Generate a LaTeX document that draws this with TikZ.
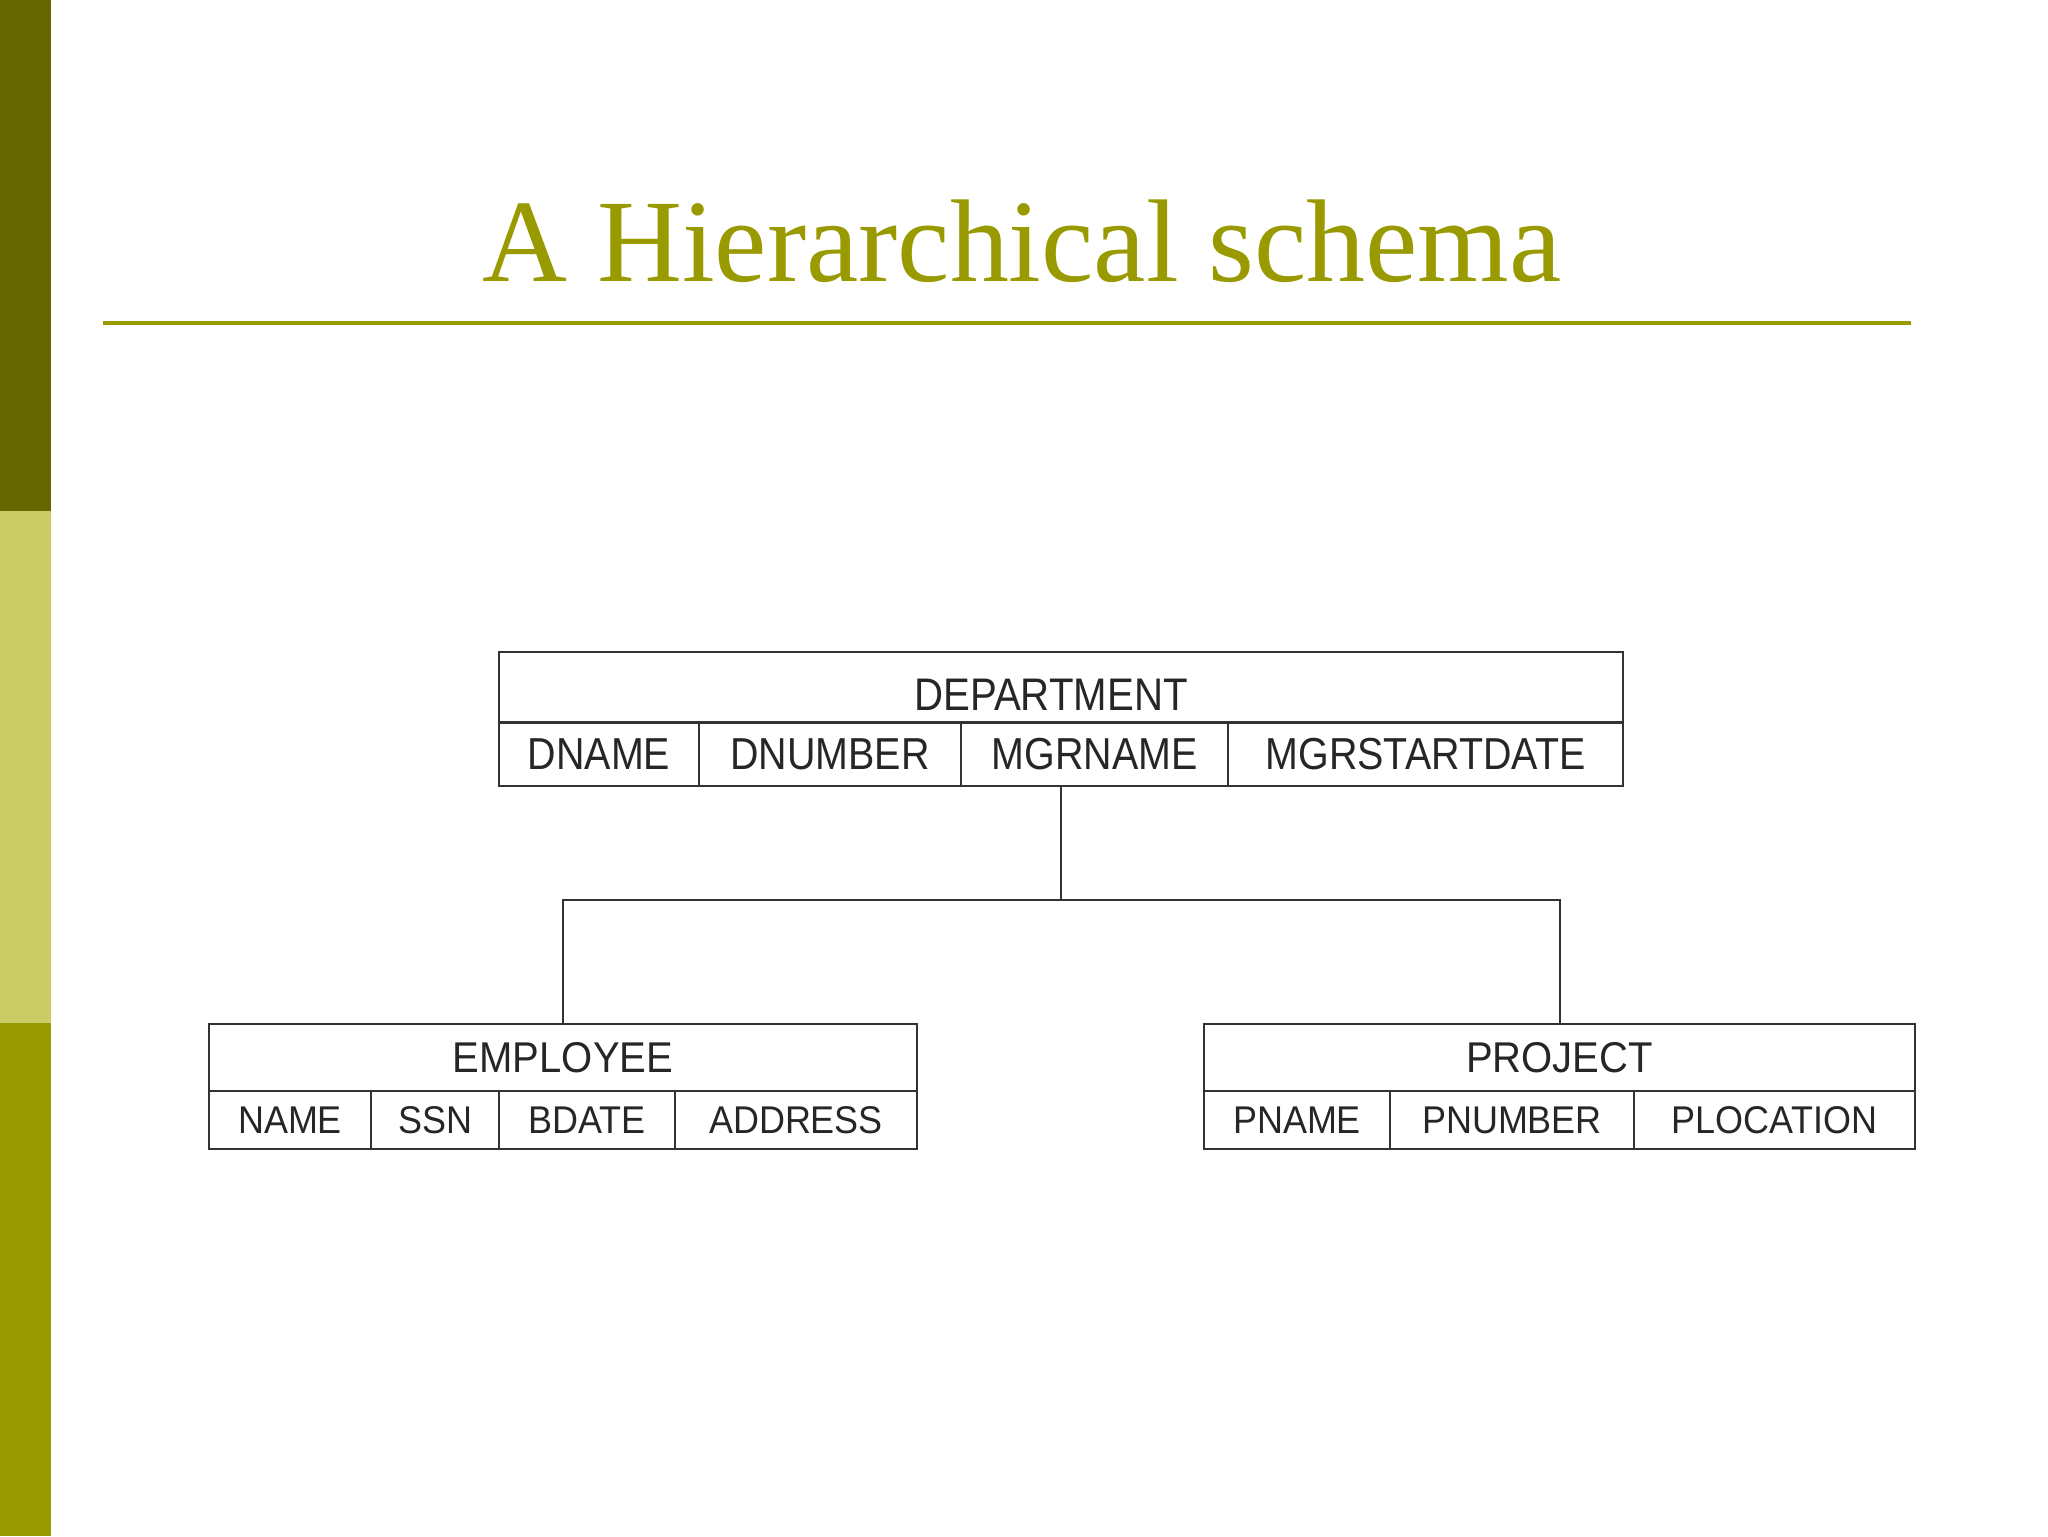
\documentclass[tikz,border=0pt]{standalone}
\usepackage{fontspec}
\setmainfont{Liberation Serif}
\newfontfamily\cellfont[FakeStretch=0.88]{Liberation Sans}
\newfontfamily\cellfontwide[FakeStretch=0.93]{Liberation Sans}
\usepackage{tikz}
\usetikzlibrary{positioning,calc}
\usepackage{xcolor}
\definecolor{barDark}{HTML}{666600}
\definecolor{barLight}{HTML}{CCCC66}
\definecolor{barOlive}{HTML}{999900}
\definecolor{lineGray}{HTML}{333333}

\tikzset{
    cell/.style={draw=lineGray,line width=0.04cm,inner sep=0pt,text=black!85,font=\cellfont},
    link/.style={draw=lineGray,line width=0.04cm}
}

\begin{document}
\begin{tikzpicture}[x=0.02cm,y=-0.02cm]
    \useasboundingbox (0,0) rectangle (2048,1536);

    % Side bar
    \fill[barDark] (0,0) rectangle (51,511);
    \fill[barLight] (0,511) rectangle (51,1023);
    \fill[barOlive] (0,1023) rectangle (51,1536);

    % Title
    \node[anchor=base,inner sep=0pt,text=barOlive,font=\fontsize{67}{70}\selectfont] (title) at (1022,281) {A Hierarchical schema};
    \draw[barOlive,line width=0.08cm] (103,323) -- (1911,323);

    % Root record
    \node[cell,minimum width=22.48cm,minimum height=1.4cm] (dept) at (1061,687) {};
    \node[inner sep=0pt,text=black!85,font=\cellfont\fontsize{26}{28}\selectfont] (deptname) at (1051,695) {DEPARTMENT};
    \foreach \n/\t/\x/\w in {dname/DNAME/599/4, dnumber/DNUMBER/830/5.24, mgrname/MGRNAME/1094.5/5.34, mgrstart/MGRSTARTDATE/1425.5/7.9} {
        \node[cell,minimum width=\w cm,minimum height=1.26cm,font=\cellfont\fontsize{25.5}{28}\selectfont] (\n) at (\x,754) {\t};
    }

    % Child records
    \node[cell,minimum width=14.16cm,minimum height=1.34cm,font=\cellfontwide\fontsize{24.5}{27}\selectfont] (employee) at (563,1057.5) {EMPLOYEE};
    \foreach \n/\t/\x/\w in {name/NAME/290/3.24, ssn/SSN/435/2.56, bdate/BDATE/587/3.52, address/ADDRESS/796/4.84} {
        \node[cell,minimum width=\w cm,minimum height=1.16cm,font=\cellfontwide\fontsize{22}{24}\selectfont] (\n) at (\x,1120) {\t};
    }
    \node[cell,minimum width=14.22cm,minimum height=1.34cm,font=\cellfontwide\fontsize{24.5}{27}\selectfont] (project) at (1559.5,1057.5) {PROJECT};
    \foreach \n/\t/\x/\w in {pname/PNAME/1297/3.72, pnumber/PNUMBER/1512/4.88, plocation/PLOCATION/1774.5/5.62} {
        \node[cell,minimum width=\w cm,minimum height=1.16cm,font=\cellfontwide\fontsize{22}{24}\selectfont] (\n) at (\x,1120) {\t};
    }

    % Links
    \coordinate (bus) at (1061,900);
    \draw[link] (dept.center |- mgrname.south) -- (bus);
    \draw[link] (employee.north) |- (bus) -| (project.north);
\end{tikzpicture}
\end{document}
